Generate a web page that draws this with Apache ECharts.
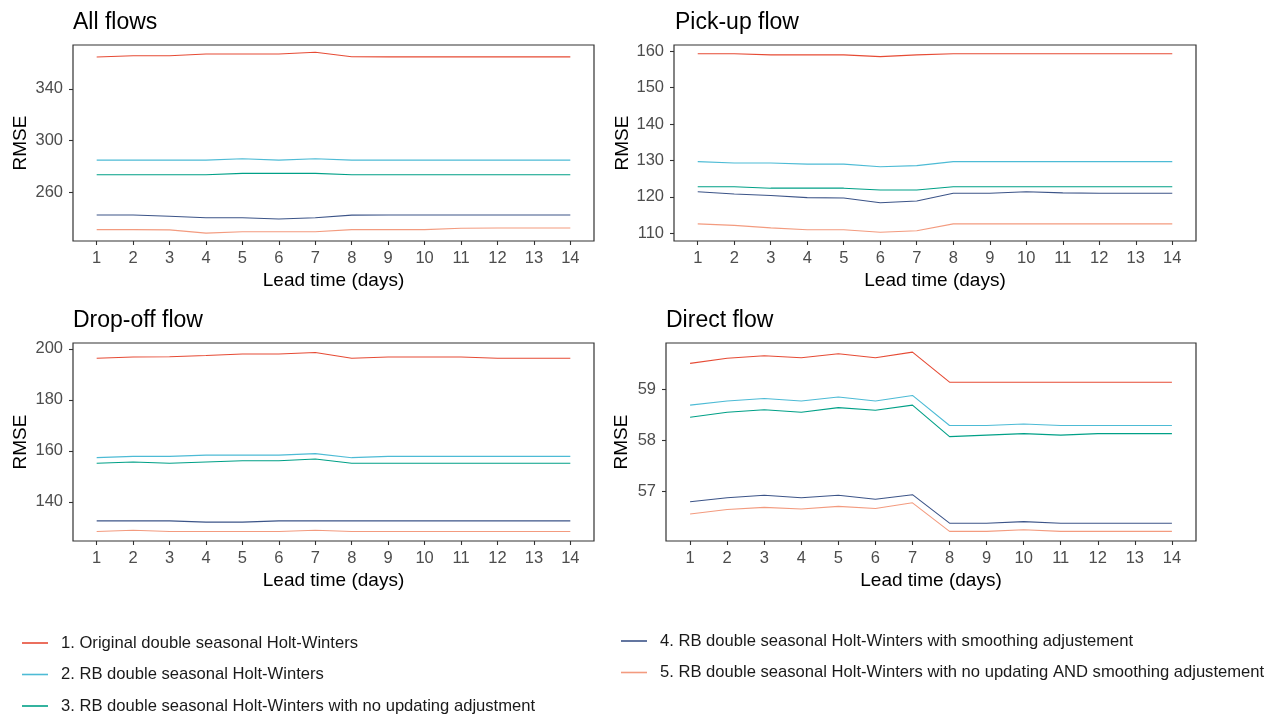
<!DOCTYPE html>
<html>
<head>
<meta charset="utf-8">
<title>RMSE by lead time</title>
<script src="https://cdn.jsdelivr.net/npm/echarts@6/dist/echarts.min.js"></script>
<style>
  html, body { margin: 0; padding: 0; background: #fff; }
  #chart { width: 1282px; height: 718px; }
</style>
</head>
<body>
<div id="chart"></div>
<script>
// Lead times on the x axis (days)
const leadTimes = [1, 2, 3, 4, 5, 6, 7, 8, 9, 10, 11, 12, 13, 14];

// Method names, in legend order
const methods = [
  '1. Original double seasonal Holt-Winters',
  '2. RB double seasonal Holt-Winters',
  '3. RB double seasonal Holt-Winters with no updating adjustment',
  '4. RB double seasonal Holt-Winters with smoothing adjustement',
  '5. RB double seasonal Holt-Winters with no updating AND smoothing adjustement'
];
const methodColors = ['#E64B35', '#4DBBD5', '#00A087', '#3C5488', '#F39B7F'];

// Panel titles
const panelTitles = ['All flows', 'Pick-up flow', 'Drop-off flow', 'Direct flow'];

// RMSE — All flows
const allOriginal   = [364.5, 365.5, 365.5, 366.8, 366.8, 366.8, 368.2, 364.7, 364.6, 364.6, 364.6, 364.6, 364.6, 364.6];
const allRB         = [284.9, 284.9, 284.9, 284.9, 285.9, 284.9, 285.9, 284.9, 284.9, 284.9, 284.9, 284.9, 284.9, 284.9];
const allNoUpdate   = [273.6, 273.6, 273.6, 273.6, 274.6, 274.6, 274.6, 273.6, 273.6, 273.6, 273.6, 273.6, 273.6, 273.6];
const allSmoothing  = [242.5, 242.5, 241.5, 240.4, 240.4, 239.4, 240.4, 242.4, 242.5, 242.5, 242.5, 242.5, 242.5, 242.5];
const allBoth       = [231.2, 231.2, 231.0, 228.5, 229.6, 229.6, 229.6, 231.2, 231.2, 231.2, 232.3, 232.4, 232.4, 232.4];

// RMSE — Pick-up flow
const pickOriginal  = [159.3, 159.3, 159.0, 159.0, 159.0, 158.5, 159.0, 159.3, 159.3, 159.3, 159.3, 159.3, 159.3, 159.3];
const pickRB        = [129.7, 129.3, 129.3, 129.0, 129.0, 128.3, 128.6, 129.7, 129.7, 129.7, 129.7, 129.7, 129.7, 129.7];
const pickNoUpdate  = [122.8, 122.8, 122.4, 122.4, 122.4, 121.9, 121.9, 122.8, 122.8, 122.8, 122.8, 122.8, 122.8, 122.8];
const pickSmoothing = [121.4, 120.8, 120.4, 119.8, 119.7, 118.4, 118.9, 121.0, 121.0, 121.4, 121.1, 121.0, 121.0, 121.0];
const pickBoth      = [112.6, 112.2, 111.5, 111.0, 111.0, 110.3, 110.7, 112.6, 112.6, 112.6, 112.6, 112.6, 112.6, 112.6];

// RMSE — Drop-off flow
const dropOriginal  = [196.3, 196.8, 196.9, 197.4, 198.0, 198.0, 198.6, 196.3, 196.8, 196.8, 196.8, 196.3, 196.3, 196.3];
const dropRB        = [157.3, 157.8, 157.8, 158.3, 158.3, 158.3, 158.9, 157.3, 157.8, 157.8, 157.8, 157.8, 157.8, 157.8];
const dropNoUpdate  = [155.1, 155.6, 155.1, 155.6, 156.1, 156.1, 156.8, 155.1, 155.1, 155.1, 155.1, 155.1, 155.1, 155.1];
const dropSmoothing = [132.5, 132.5, 132.5, 132.0, 132.0, 132.5, 132.5, 132.5, 132.5, 132.5, 132.5, 132.5, 132.5, 132.5];
const dropBoth      = [128.3, 128.8, 128.3, 128.3, 128.3, 128.3, 128.8, 128.3, 128.3, 128.3, 128.3, 128.3, 128.3, 128.3];

// RMSE — Direct flow
const directOriginal  = [59.51, 59.61, 59.66, 59.62, 59.70, 59.62, 59.73, 59.14, 59.14, 59.14, 59.14, 59.14, 59.14, 59.14];
const directRB        = [58.69, 58.77, 58.82, 58.77, 58.85, 58.77, 58.88, 58.29, 58.29, 58.32, 58.29, 58.29, 58.29, 58.29];
const directNoUpdate  = [58.45, 58.55, 58.60, 58.55, 58.64, 58.59, 58.69, 58.07, 58.10, 58.13, 58.10, 58.13, 58.13, 58.13];
const directSmoothing = [56.79, 56.87, 56.92, 56.87, 56.92, 56.84, 56.93, 56.37, 56.37, 56.40, 56.37, 56.37, 56.37, 56.37];
const directBoth      = [56.55, 56.64, 56.68, 56.65, 56.70, 56.66, 56.77, 56.21, 56.21, 56.24, 56.21, 56.21, 56.21, 56.21];

// Y tick labels per panel
const allTicks    = [260, 300, 340];
const pickTicks   = [110, 120, 130, 140, 150, 160];
const dropTicks   = [140, 160, 180, 200];
const directTicks = [57, 58, 59];

const panelSeries = [
  [allOriginal, allRB, allNoUpdate, allSmoothing, allBoth],
  [pickOriginal, pickRB, pickNoUpdate, pickSmoothing, pickBoth],
  [dropOriginal, dropRB, dropNoUpdate, dropSmoothing, dropBoth],
  [directOriginal, directRB, directNoUpdate, directSmoothing, directBoth]
];
const panelTicks = [allTicks, pickTicks, dropTicks, directTicks];

// Layout of the four panels
const panelLayout = [
  { left: 73,  top: 45,  width: 521, height: 196, yMin: 222.4, yMax: 373.8, nameGap: 43, titleLeft: 73,  titleTop: 11 },
  { left: 674, top: 45,  width: 522, height: 196, yMin: 107.9, yMax: 161.7, nameGap: 42, titleLeft: 675, titleTop: 11 },
  { left: 73,  top: 343, width: 521, height: 198, yMin: 124.6, yMax: 202.3, nameGap: 43, titleLeft: 73,  titleTop: 309 },
  { left: 666, top: 343, width: 530, height: 198, yMin: 56.02, yMax: 59.91, nameGap: 35, titleLeft: 666, titleTop: 309 }
];

const font = 'Liberation Sans, Arial, sans-serif';
const tickColor = '#333333';
const labelColor = '#4D4D4D';

const grids = [], xAxes = [], yAxes = [], titles = [], series = [];

panelLayout.forEach((p, i) => {
  grids.push({
    left: p.left, top: p.top, width: p.width, height: p.height,
    show: true, borderColor: '#333333', borderWidth: 1.2, backgroundColor: '#fff'
  });
  titles.push({
    text: panelTitles[i], left: p.titleLeft, top: p.titleTop, padding: 0,
    textStyle: { fontFamily: font, fontSize: 23, fontWeight: 'normal', color: '#000' }
  });
  xAxes.push({
    type: 'value', gridIndex: i, min: 0.35, max: 14.65,
    name: 'Lead time (days)', nameLocation: 'middle', nameGap: 30,
    nameTextStyle: { fontFamily: font, fontSize: 19, color: '#000' },
    axisLine: { show: false },
    splitLine: { show: false },
    axisTick: { show: true, length: 4, customValues: leadTimes, lineStyle: { color: tickColor, width: 1.1 } },
    axisLabel: { customValues: leadTimes, margin: 9, fontFamily: font, fontSize: 16.5, color: labelColor }
  });
  yAxes.push({
    type: 'value', gridIndex: i, min: p.yMin, max: p.yMax,
    name: 'RMSE', nameLocation: 'middle', nameGap: p.nameGap,
    nameTextStyle: { fontFamily: font, fontSize: 19, color: '#000' },
    axisLine: { show: false },
    splitLine: { show: false },
    axisTick: { show: true, length: 4, customValues: panelTicks[i], lineStyle: { color: tickColor, width: 1.1 } },
    axisLabel: { customValues: panelTicks[i], margin: 10, fontFamily: font, fontSize: 16.5, color: labelColor }
  });
  panelSeries[i].forEach((vals, k) => {
    series.push({
      name: methods[k], type: 'line', xAxisIndex: i, yAxisIndex: i,
      data: leadTimes.map((d, j) => [d, vals[j]]),
      showSymbol: false, symbol: 'none', silent: true,
      lineStyle: { color: methodColors[k], width: 1.1 },
      itemStyle: { color: methodColors[k] }
    });
  });
});

const legendBase = {
  orient: 'vertical', icon: 'rect', itemWidth: 26, itemHeight: 1.6, itemGap: 13.5,
  padding: 0, selectedMode: false,
  textStyle: { fontFamily: font, fontSize: 16.6, color: '#1a1a1a', lineHeight: 18, padding: [0, 0, 0, 8] }
};

const chart = echarts.init(document.getElementById('chart'), null, { renderer: 'canvas' });
chart.setOption({
  animation: false,
  backgroundColor: '#fff',
  title: titles,
  grid: grids,
  xAxis: xAxes,
  yAxis: yAxes,
  legend: [
    Object.assign({}, legendBase, { left: 22, top: 634, data: methods.slice(0, 3) }),
    Object.assign({}, legendBase, { left: 621, top: 632, data: methods.slice(3) })
  ],
  series: series
});
</script>
</body>
</html>
